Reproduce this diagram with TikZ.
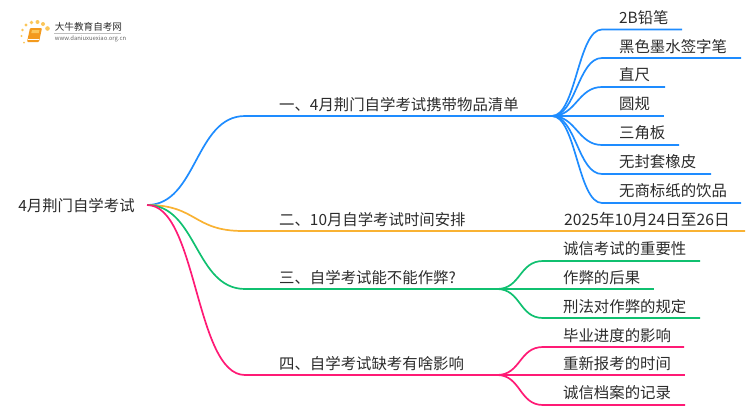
\documentclass[tikz,border=0pt]{standalone}
\usepackage{fontspec}
\setmainfont{Noto Sans CJK SC}
\usetikzlibrary{calc,
positioning}
\definecolor{mapblue}{HTML}{1E8CFF}
\definecolor{maporange}{HTML}{F9B233}
\definecolor{mapgreen}{HTML}{10C070}
\definecolor{mappink}{HTML}{FF1A75}
\definecolor{maptext}{HTML}{2B2B2B}
\definecolor{logoyellow}{HTML}{FBC65A}
\definecolor{logobook}{HTML}{F39A1E}

\begin{document}
\begin{tikzpicture} [x = 1pt,
        y = -1pt,
        line width = 1.7pt,
        main node/.style={inner sep = 0pt, anchor = west, text = maptext,
                font = \fontsize{15.4}{15.4}\selectfont,
                text height = 13.4pt, text depth = 1pt},
        trunk/.style={out = 0, in = 180, distance = 50pt},
        fan/.style={out = 0, in = 180, distance = 24pt},
        logo dot/.style={fill = logoyellow, draw = none}]

    \useasboundingbox (0, 0) rectangle (750, 410);

    % logo
    \fill [logo dot] (26, 25) circle (1.7);
    \fill [logo dot] (31.5, 22.5) circle (1.9);
    \fill [logo dot] (37.5, 22) circle (2);
    \fill [logo dot] (43, 24) circle (2);
    \fill [logo dot] (47.5, 28.5) circle (2.3);
    \fill [logo dot] (22.5, 30) circle (1.4);
    \fill [logo dot] (21.5, 36) circle (1.2);
    \fill [logo dot] (24, 42.5) circle (1);
    \fill [logobook, rounded corners = 1pt] (30, 28) -- (42, 28) -- (39, 42) -- (27, 42) -- cycle;
    \fill [logoyellow] (32, 30) -- (39.5, 30) -- (38.8, 33) -- (31.3, 33) -- cycle;
    \draw [white, line width = 0.5pt] (27.5, 39.5) -- (39, 39.5);
    \node [
        inner sep = 0pt,
        anchor = west,
        text = maptext,
        font = \fontsize{9.6}{10}\selectfont
    ] (logo_name) at (54, 27) {大牛教育自考网};
    \draw [black!25, line width = 0.5pt] (54, 33.5) -- (121, 33.5);
    \node [
        inner sep = 0pt,
        anchor = west,
        text = black!60,
        font = \fontsize{5.9}{6}\selectfont
    ] (logo_url) at (54, 38.5) {www.daniuxuexiao.org.cn};

    % root
    \node [
        main node,
        inner xsep = 11.5pt
    ] (root) at (6, 205) {4月荆门自学考试};

    % branches
    \node [main node] (one) at (278.3, 104) {一、4月荆门自学考试携带物品清单};
    \node [main node] (two) at (278.3, 219) {二、10月自学考试时间安排};
    \node [main node] (three) at (278.3, 277) {三、自学考试能不能作弊?};
    \node [main node] (four) at (278.3, 363) {四、自学考试缺考有啥影响};

    \coordinate (one_in) at (245, 116);
    \coordinate (one_out) at (552, 116);
    \coordinate (two_in) at (243, 231);
    \coordinate (two_out) at (745, 231);
    \coordinate (three_in) at (245, 289);
    \coordinate (three_out) at (497, 289);
    \coordinate (four_in) at (245, 375);
    \coordinate (four_out) at (497, 375);

    \draw [mapblue] (root.east) to [trunk] (one_in) -- (one_out);
    \draw [maporange] (root.east) to [trunk] (two_in) -- (two_out);
    \draw [mapgreen] (root.east) to [trunk] (three_in) -- (three_out);
    \draw [mappink] (root.east) to [trunk] (four_in) -- (four_out);

    % first branch leaves
    \node [main node] (pencil) at (618.3, 17) {2B铅笔};
    \node [main node] (pen) at (618.3, 46) {黑色墨水签字笔};
    \node [main node] (ruler) at (618.3, 74) {直尺};
    \node [main node] (compass) at (618.3, 103) {圆规};
    \node [main node] (square) at (618.3, 132) {三角板};
    \node [main node] (eraser) at (618.3, 161) {无封套橡皮};
    \node [main node] (drink) at (618.3, 190) {无商标纸的饮品};

    \coordinate (pencil_in) at (602, 29.5);
    \coordinate (pen_in) at (602, 58);
    \coordinate (ruler_in) at (602, 87);
    \coordinate (compass_in) at (602, 116);
    \coordinate (square_in) at (602, 145);
    \coordinate (eraser_in) at (602, 174);
    \coordinate (drink_in) at (602, 203);
    \coordinate (pencil_end) at (682, 29.5);
    \coordinate (pen_end) at (741, 58);
    \coordinate (ruler_end) at (665, 87);
    \coordinate (compass_end) at (664, 116);
    \coordinate (square_end) at (679, 145);
    \coordinate (eraser_end) at (711, 174);
    \coordinate (drink_end) at (741, 203);

    \draw [mapblue] (one_out) to [fan] (pencil_in) -- (pencil_end);
    \draw [mapblue] (one_out) to [fan] (pen_in) -- (pen_end);
    \draw [mapblue] (one_out) to [fan] (ruler_in) -- (ruler_end);
    \draw [mapblue] (one_out) -- (compass_end);
    \draw [mapblue] (one_out) to [fan] (square_in) -- (square_end);
    \draw [mapblue] (one_out) to [fan] (eraser_in) -- (eraser_end);
    \draw [mapblue] (one_out) to [fan] (drink_in) -- (drink_end);

    % second branch value
    \node [main node, font = \fontsize{15.7}{15.7}\selectfont] (date) at (563.3, 219) {2025年10月24日至26日};

    % third branch leaves
    \node [main node] (honesty) at (562.3, 248) {诚信考试的重要性};
    \node [main node] (result) at (562.3, 277) {作弊的后果};
    \node [main node] (law) at (562.3, 306) {刑法对作弊的规定};

    \coordinate (honesty_in) at (543, 261);
    \coordinate (law_in) at (543, 318);
    \coordinate (honesty_end) at (700, 261);
    \coordinate (result_end) at (654, 289);
    \coordinate (law_end) at (700, 318);

    \draw [mapgreen] (three_out) to [fan] (honesty_in) -- (honesty_end);
    \draw [mapgreen] (three_out) -- (result_end);
    \draw [mapgreen] (three_out) to [fan] (law_in) -- (law_end);

    % fourth branch leaves
    \node [main node] (progress) at (562.3, 335) {毕业进度的影响};
    \node [main node] (again) at (562.3, 363) {重新报考的时间};
    \node [main node] (record) at (562.3, 392) {诚信档案的记录};

    \coordinate (progress_in) at (543, 347);
    \coordinate (record_in) at (543, 405);
    \coordinate (progress_end) at (684, 347);
    \coordinate (again_end) at (685, 375);
    \coordinate (record_end) at (685, 405);

    \draw [mappink] (four_out) to [fan] (progress_in) -- (progress_end);
    \draw [mappink] (four_out) -- (again_end);
    \draw [mappink] (four_out) to [fan] (record_in) -- (record_end);

\end{tikzpicture}
\end{document}
